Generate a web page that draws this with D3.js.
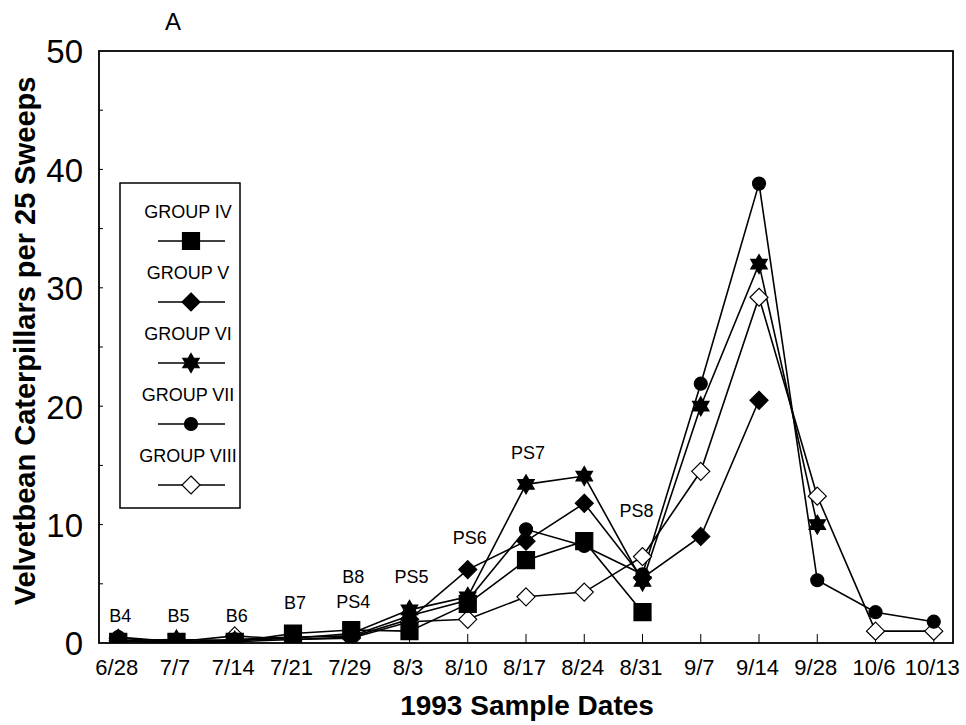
<!DOCTYPE html>
<html>
<head>
<meta charset="utf-8">
<script src="https://cdn.jsdelivr.net/npm/d3@7"></script>
<style>
	body { margin: 0; background: #fff; }
	svg text { font-family: "Liberation Sans", Arial, sans-serif; fill: #000; }
</style>
</head>
<body>
<svg id="chart" width="966" height="725"></svg>
<script>
var dates = ["6/28", "7/7", "7/14", "7/21", "7/29", "8/3", "8/10", "8/17", "8/24", "8/31", "9/7", "9/14", "9/28", "10/6", "10/13"];

// counts per 25 sweeps, one value per date (series stop where the group was no longer sampled)
var groupIV = [0.1, 0.1, 0.1, 0.8, 1.1, 1.0, 3.3, 7.0, 8.6, 2.6];
var groupV = [0.2, 0.0, 0.1, 0.3, 0.5, 2.0, 6.2, 8.6, 11.8, 5.5, 9.0, 20.5];
var groupVI = [0.2, 0.3, 0.2, 0.4, 0.8, 2.8, 3.9, 13.4, 14.1, 5.2, 20.0, 32.0, 10.0];
var groupVII = [0.5, 0.1, 0.3, 0.5, 0.6, 2.3, 3.6, 9.6, 8.2, 5.8, 21.9, 38.8, 5.3, 2.6, 1.8];
var groupVIII = [0.4, 0.1, 0.6, 0.3, 0.4, 1.8, 2.0, 3.9, 4.3, 7.3, 14.5, 29.2, 12.4, 1.0, 1.0];

var groupNames = ["GROUP IV", "GROUP V", "GROUP VI", "GROUP VII", "GROUP VIII"];
var groupMarkers = ["square", "diamond", "star", "circle", "openDiamond"];

var yTicks = [0, 10, 20, 30, 40, 50];

// spray / sample stage notes above the dates
var stageText = ["B4", "B5", "B6", "B7", "B8", "PS4", "PS5", "PS6", "PS7", "PS8"];
var stageDate = ["6/28", "7/7", "7/14", "7/21", "7/29", "7/29", "8/3", "8/10", "8/17", "8/31"];
var stageLevel = [2.3, 2.3, 2.3, 3.4, 5.6, 3.5, 5.6, 8.9, 16.1, 11.2];

var Chart = {
	margin: { left: 99, top: 51, right: 953, bottom: 643 },
	svg: null,
	x: null,
	y: null,

	init: function() {
		var self = this;

		self.svg = d3.select("#chart");

		self.x = d3.scalePoint()
			.domain(dates)
			.range([self.margin.left, self.margin.right])
			.padding(0.33);

		self.y = d3.scaleLinear()
			.domain([0, 50])
			.range([self.margin.bottom, self.margin.top]);

		self.svg.append("defs").append("clipPath")
			.attr("id", "plot-clip")
			.append("rect")
			.attr("x", self.margin.left)
			.attr("y", self.margin.top)
			.attr("width", self.margin.right - self.margin.left)
			.attr("height", self.margin.bottom - self.margin.top);

		self.drawAxes();
		self.drawSeries();
		self.drawStages();
		self.drawLegend();
	},
	markerPath: function(type) {
		if (type == "square")
			return "M-8.5,-8.5H8.5V8.5H-8.5Z";
		if (type == "diamond" || type == "openDiamond")
			return "M0,-9L9,0L0,9L-9,0Z";
		if (type == "circle")
			return d3.symbol(d3.symbolCircle, Math.PI * 6.5 * 6.5)();

		// six pointed star
		var pts = [];
		for (var i = 0; i < 12; i++) {
			var r = i % 2 == 0 ? 9.5 : 5.5;
			var a = -Math.PI / 2 + i * Math.PI / 6;
			pts.push([r * Math.cos(a), r * Math.sin(a)]);
		}
		return "M" + pts.join("L") + "Z";
	},
	drawAxes: function() {
		var self = this;
		var m = self.margin;

		var yAxis = d3.axisLeft(self.y)
			.tickValues(yTicks)
			.tickSize(0)
			.tickPadding(16);

		var yAxisG = self.svg.append("g")
			.attr("transform", "translate(" + m.left + ",0)")
			.call(yAxis);
		yAxisG.select(".domain").remove();
		yAxisG.selectAll("text")
			.style("font-size", "33px")
			.attr("dy", "0.36em");

		// small inner ticks every 5 units
		self.svg.append("g")
			.selectAll("line")
			.data(d3.range(5, 50, 5))
			.enter()
			.append("line")
			.attr("x1", m.left)
			.attr("x2", m.left + 4)
			.attr("y1", function(d) { return self.y(d); })
			.attr("y2", function(d) { return self.y(d); })
			.style("stroke", "#000")
			.style("stroke-width", 1);

		var xAxis = d3.axisBottom(self.x)
			.tickSize(0)
			.tickPadding(16);

		var xAxisG = self.svg.append("g")
			.attr("transform", "translate(0," + m.bottom + ")")
			.call(xAxis);
		xAxisG.select(".domain").remove();
		xAxisG.selectAll("text")
			.style("font-size", "22px")
			.attr("dx", "-2");

		// ticks point up into the plot
		self.svg.append("g")
			.selectAll("line")
			.data(dates)
			.enter()
			.append("line")
			.attr("x1", function(d) { return self.x(d); })
			.attr("x2", function(d) { return self.x(d); })
			.attr("y1", m.bottom)
			.attr("y2", m.bottom - 9)
			.style("stroke", "#000")
			.style("stroke-width", 1);

		// frame
		self.svg.append("rect")
			.attr("x", m.left)
			.attr("y", m.top)
			.attr("width", m.right - m.left)
			.attr("height", m.bottom - m.top)
			.style("fill", "none")
			.style("stroke", "#000")
			.style("stroke-width", 1.8);

		var labelY = (m.top + m.bottom) / 2 - 6;
		self.svg.append("text")
			.attr("x", 25)
			.attr("y", labelY)
			.attr("transform", "rotate(-90,25," + labelY + ")")
			.attr("dy", "0.35em")
			.style("text-anchor", "middle")
			.style("font-size", "29px")
			.style("font-weight", "bold")
			.text("Velvetbean Caterpillars per 25 Sweeps");

		self.svg.append("text")
			.attr("x", 527)
			.attr("y", 715)
			.style("text-anchor", "middle")
			.style("font-size", "28px")
			.style("font-weight", "bold")
			.text("1993 Sample Dates");

		self.svg.append("text")
			.attr("x", 173)
			.attr("y", 30)
			.style("text-anchor", "middle")
			.style("font-size", "24px")
			.text("A");
	},
	drawSeries: function() {
		var self = this;
		var series = [groupIV, groupV, groupVI, groupVII, groupVIII];

		var line = d3.line()
			.x(function(d, i) { return self.x(dates[i]); })
			.y(function(d) { return self.y(d); });

		var plot = self.svg.append("g")
			.attr("clip-path", "url(#plot-clip)");

		plot.selectAll(".series-line")
			.data(series)
			.enter()
			.append("path")
			.attr("class", "series-line")
			.attr("d", line)
			.style("fill", "none")
			.style("stroke", "#000")
			.style("stroke-width", 1.6);

		// markers, last group first so the squares end up on top
		for (var s = series.length - 1; s >= 0; s--) {
			var type = groupMarkers[s];
			plot.append("g")
				.selectAll("path")
				.data(series[s])
				.enter()
				.append("path")
				.attr("transform", function(d, i) {
					return "translate(" + self.x(dates[i]) + "," + self.y(d) + ")";
				})
				.attr("d", self.markerPath(type))
				.style("fill", type == "openDiamond" ? "#fff" : "#000")
				.style("stroke", "#000")
				.style("stroke-width", 1.2);
		}
	},
	drawStages: function() {
		var self = this;

		self.svg.append("g")
			.selectAll("text")
			.data(stageText)
			.enter()
			.append("text")
			.attr("x", function(d, i) {
				return self.x(stageDate[i]) + (d == "PS8" ? -6 : 2);
			})
			.attr("y", function(d, i) { return self.y(stageLevel[i]); })
			.attr("dy", "0.35em")
			.style("text-anchor", "middle")
			.style("font-size", "18px")
			.text(function(d) { return d; });
	},
	drawLegend: function() {
		var self = this;

		var legend = self.svg.append("g")
			.attr("transform", "translate(120,183)");

		legend.append("rect")
			.attr("width", 120)
			.attr("height", 325)
			.style("fill", "#fff")
			.style("stroke", "#000")
			.style("stroke-width", 1.5);

		var item = legend.selectAll(".item")
			.data(groupNames)
			.enter()
			.append("g")
			.attr("class", "item")
			.attr("transform", function(d, i) {
				return "translate(0," + i * 61 + ")";
			});

		item.append("text")
			.attr("x", 68)
			.attr("y", 29)
			.attr("dy", "0.35em")
			.style("text-anchor", "middle")
			.style("font-size", "18px")
			.text(function(d) { return d; });

		item.append("line")
			.attr("x1", 38)
			.attr("x2", 105)
			.attr("y1", 58)
			.attr("y2", 58)
			.style("stroke", "#000")
			.style("stroke-width", 1.5);

		item.append("path")
			.attr("transform", "translate(71,58)")
			.attr("d", function(d, i) { return self.markerPath(groupMarkers[i]); })
			.style("fill", function(d, i) { return groupMarkers[i] == "openDiamond" ? "#fff" : "#000"; })
			.style("stroke", "#000")
			.style("stroke-width", 1.2);
	}
};

Chart.init();
</script>
</body>
</html>
